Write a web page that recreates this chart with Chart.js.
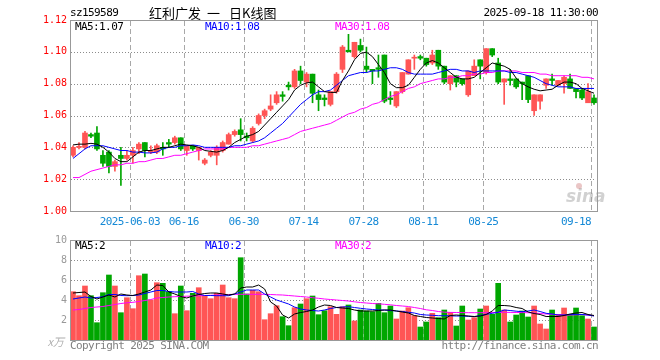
<!DOCTYPE html>
<html><head><meta charset="utf-8">
<script src="https://cdn.jsdelivr.net/npm/chart.js@4.4.0/dist/chart.umd.min.js"></script>
<style>
html,body{margin:0;padding:0;background:#fff;}
#wrap{position:relative;width:660px;height:360px;overflow:hidden;}
#c1{position:absolute;left:0;top:0;}
#c2{position:absolute;left:0;top:230px;}
</style></head><body>
<div id="wrap"><canvas id="c1" width="660" height="230"></canvas><canvas id="c2" width="660" height="130"></canvas></div>
<script>
const dates = ['2025-05-19','2025-05-20','2025-05-21','2025-05-22','2025-05-23','2025-05-26','2025-05-27','2025-05-28','2025-05-29','2025-05-30',
'2025-06-03','2025-06-04','2025-06-05','2025-06-06','2025-06-09','2025-06-10','2025-06-11','2025-06-12','2025-06-13',
'2025-06-16','2025-06-17','2025-06-18','2025-06-19','2025-06-20','2025-06-23','2025-06-24','2025-06-25','2025-06-26','2025-06-27','2025-06-30',
'2025-07-01','2025-07-02','2025-07-03','2025-07-04','2025-07-07','2025-07-08','2025-07-09','2025-07-10','2025-07-11',
'2025-07-14','2025-07-15','2025-07-16','2025-07-17','2025-07-18','2025-07-21','2025-07-22','2025-07-23','2025-07-24','2025-07-25',
'2025-07-28','2025-07-29','2025-07-30','2025-07-31','2025-08-01','2025-08-04','2025-08-05','2025-08-06','2025-08-07','2025-08-08',
'2025-08-11','2025-08-12','2025-08-13','2025-08-14','2025-08-15','2025-08-18','2025-08-19','2025-08-20','2025-08-21','2025-08-22',
'2025-08-25','2025-08-26','2025-08-27','2025-08-28','2025-08-29','2025-09-01','2025-09-02','2025-09-03','2025-09-04','2025-09-05',
'2025-09-08','2025-09-09','2025-09-10','2025-09-11','2025-09-12','2025-09-15','2025-09-16','2025-09-17','2025-09-18'];

const openP = [1.035,1.040,1.040,1.048,1.049,1.035,1.037,1.028,1.035,1.033,
1.035,1.039,1.043,1.037,1.037,1.040,1.043,1.043,1.046,1.038,
1.041,1.038,1.030,1.035,1.035,1.038,1.042,1.048,1.051,1.047,
1.044,1.055,1.060,1.064,1.068,1.073,1.079,1.078,1.088,1.081,
1.086,1.073,1.071,1.067,1.075,1.089,1.101,1.097,1.104,1.091,
1.089,1.090,1.098,1.071,1.066,1.075,1.086,1.096,1.097,1.096,
1.093,1.101,1.091,1.080,1.085,1.083,1.073,1.085,1.095,1.087,
1.102,1.093,1.081,1.083,1.083,1.081,1.085,1.063,1.069,1.079,
1.083,1.079,1.080,1.083,1.077,1.076,1.068,1.071];
const highP = [1.041,1.043,1.050,1.049,1.053,1.038,1.038,1.032,1.040,1.038,
1.040,1.043,1.043,1.041,1.042,1.043,1.045,1.047,1.046,1.041,
1.041,1.040,1.033,1.038,1.041,1.044,1.049,1.051,1.058,1.049,
1.053,1.061,1.064,1.073,1.075,1.075,1.081,1.089,1.091,1.087,
1.086,1.076,1.073,1.075,1.087,1.104,1.111,1.106,1.108,1.103,
1.089,1.098,1.098,1.075,1.075,1.087,1.095,1.098,1.098,1.096,
1.101,1.101,1.091,1.085,1.085,1.083,1.088,1.095,1.095,1.102,
1.102,1.096,1.083,1.089,1.083,1.081,1.085,1.073,1.073,1.083,
1.086,1.082,1.085,1.086,1.077,1.077,1.080,1.073];
const lowP = [1.034,1.039,1.039,1.046,1.038,1.028,1.024,1.025,1.016,1.032,
1.030,1.036,1.034,1.036,1.036,1.035,1.040,1.042,1.038,1.035,
1.038,1.032,1.029,1.034,1.029,1.037,1.042,1.047,1.044,1.044,
1.043,1.054,1.058,1.063,1.067,1.069,1.076,1.077,1.080,1.078,
1.068,1.063,1.066,1.066,1.074,1.087,1.100,1.096,1.100,1.087,
1.080,1.084,1.068,1.067,1.065,1.074,1.086,1.089,1.095,1.091,
1.092,1.089,1.080,1.076,1.078,1.079,1.072,1.085,1.083,1.086,
1.097,1.080,1.067,1.079,1.077,1.070,1.068,1.060,1.064,1.077,
1.079,1.079,1.074,1.077,1.071,1.070,1.068,1.067];
const closeP = [1.040,1.040,1.049,1.047,1.039,1.030,1.028,1.031,1.033,1.035,
1.038,1.042,1.038,1.038,1.041,1.039,1.042,1.046,1.039,1.041,
1.039,1.040,1.032,1.037,1.040,1.043,1.048,1.050,1.048,1.046,
1.052,1.060,1.063,1.066,1.073,1.072,1.078,1.088,1.082,1.086,
1.074,1.070,1.070,1.075,1.086,1.103,1.100,1.106,1.101,1.089,
1.088,1.089,1.069,1.070,1.075,1.087,1.095,1.096,1.096,1.092,
1.098,1.091,1.081,1.085,1.081,1.080,1.088,1.091,1.091,1.102,
1.098,1.081,1.083,1.082,1.078,1.080,1.070,1.073,1.073,1.083,
1.082,1.082,1.084,1.077,1.075,1.071,1.075,1.068];

const ma5 = [1.0415,1.042,1.042,1.0425,1.042,1.040,1.037,1.033,1.031,1.031,
1.034,1.037,1.038,1.038,1.039,1.040,1.040,1.041,1.042,1.0415,
1.041,1.040,1.038,1.0375,1.037,1.038,1.040,1.043,1.045,1.047,
1.048,1.050,1.054,1.058,1.062,1.066,1.070,1.076,1.079,1.0805,
1.081,1.078,1.075,1.0745,1.0745,1.082,1.088,1.095,1.099,1.0998,
1.097,1.092,1.087,1.080,1.0775,1.0775,1.079,1.084,1.089,1.093,
1.0945,1.093,1.090,1.087,1.084,1.083,1.083,1.084,1.087,1.090,
1.093,1.092,1.091,1.089,1.0835,1.080,1.078,1.0765,1.0755,1.076,
1.0765,1.079,1.081,1.081,1.080,1.077,1.0755,1.074];
const ma10 = [1.033,1.036,1.039,1.041,1.041,1.041,1.040,1.039,1.038,1.038,
1.037,1.037,1.0365,1.0365,1.037,1.039,1.040,1.040,1.041,1.041,
1.0415,1.041,1.040,1.040,1.040,1.040,1.040,1.041,1.041,1.042,
1.043,1.044,1.046,1.049,1.052,1.055,1.059,1.063,1.067,1.070,
1.073,1.075,1.075,1.076,1.079,1.082,1.085,1.086,1.087,1.087,
1.088,1.088,1.089,1.090,1.090,1.089,1.087,1.086,1.086,1.086,
1.086,1.087,1.088,1.089,1.089,1.088,1.088,1.087,1.088,1.088,
1.088,1.088,1.088,1.087,1.087,1.086,1.085,1.084,1.082,1.080,
1.079,1.078,1.078,1.078,1.077,1.077,1.077,1.077];
const ma30 = [1.021,1.021,1.023,1.025,1.026,1.027,1.028,1.029,1.029,1.030,
1.030,1.031,1.031,1.032,1.033,1.033,1.034,1.035,1.035,1.036,
1.037,1.038,1.039,1.039,1.039,1.039,1.040,1.040,1.040,1.040,
1.041,1.041,1.042,1.043,1.044,1.045,1.046,1.048,1.050,1.051,
1.052,1.053,1.054,1.055,1.057,1.059,1.061,1.062,1.064,1.065,
1.067,1.068,1.070,1.072,1.073,1.075,1.077,1.078,1.080,1.081,
1.082,1.083,1.083,1.084,1.084,1.085,1.085,1.086,1.086,1.087,
1.087,1.088,1.088,1.088,1.088,1.087,1.087,1.087,1.086,1.086,
1.085,1.085,1.085,1.085,1.085,1.084,1.084,1.083];

const volume = [4.83,4.43,5.4,4.43,1.73,4.73,6.5,5.4,2.73,4.23,
3.13,6.43,6.6,4.0,5.73,5.67,4.83,2.63,5.4,2.93,
4.67,5.23,4.43,4.13,4.67,5.5,4.23,4.13,8.23,4.6,
4.97,4.83,2.03,2.63,3.43,2.33,1.43,3.23,3.6,4.13,
4.4,2.53,2.93,3.33,2.57,3.33,3.5,1.9,3.0,2.9,
2.83,3.67,2.73,3.4,2.1,2.9,3.23,2.43,1.3,1.8,
2.67,2.23,3.0,2.77,1.4,3.4,2.0,2.23,3.1,3.4,
2.57,5.67,3.0,1.8,2.5,2.9,2.3,3.4,1.6,1.1,
3.0,2.57,3.2,2.5,3.2,2.43,2.1,1.3];
const volMa5 = [4.7,4.75,4.8,4.35,4.1,4.3,4.5,4.3,4.6,4.5,
4.45,4.6,4.8,5.0,5.5,5.45,4.8,4.6,4.35,4.2,
4.4,4.55,4.65,4.7,4.7,4.6,4.5,4.6,5.2,5.3,
5.3,5.5,5.1,3.8,3.4,2.5,2.2,2.6,2.75,2.85,
3.0,3.3,3.5,3.45,3.25,3.2,3.15,3.0,2.9,2.9,
2.9,2.95,3.0,3.0,2.9,2.8,2.7,2.45,2.35,2.25,
2.2,2.15,2.1,2.45,2.5,2.45,2.4,2.35,2.4,2.55,
2.9,3.45,3.45,3.4,3.25,3.15,2.8,2.65,2.55,2.35,
2.35,2.35,2.45,2.6,2.7,2.75,2.55,2.45];
const volMa10 = [4.1,4.2,4.3,4.2,4.25,4.33,4.55,4.55,4.45,4.43,
4.45,4.5,4.65,4.8,4.95,4.95,4.85,4.8,4.8,4.8,
4.85,4.6,4.45,4.45,4.43,4.43,4.43,4.6,4.8,5.0,
5.0,5.0,4.6,4.3,4.0,3.8,3.6,3.3,3.1,3.0,
2.95,2.9,3.0,3.15,3.25,3.3,3.33,3.25,3.17,3.1,
3.05,3.0,3.0,2.95,2.9,2.85,2.77,2.7,2.55,2.5,
2.47,2.43,2.43,2.42,2.4,2.4,2.37,2.33,2.45,2.57,
2.67,2.77,3.0,2.95,2.88,2.83,2.9,3.0,2.85,2.67,
2.6,2.5,2.5,2.55,2.57,2.55,2.5,2.4];
const volMa30 = [3.0,3.05,3.15,3.25,3.3,3.35,3.45,3.55,3.65,3.72,
3.77,3.85,3.95,4.05,4.2,4.25,4.3,4.33,4.35,4.38,
4.4,4.42,4.45,4.47,4.5,4.52,4.55,4.57,4.57,4.57,
4.57,4.57,4.57,4.55,4.52,4.5,4.45,4.4,4.35,4.3,
4.23,4.17,4.1,4.05,4.0,3.95,3.9,3.82,3.75,3.7,
3.65,3.62,3.57,3.52,3.45,3.4,3.35,3.25,3.15,3.02,
2.95,2.85,2.78,2.76,2.75,2.74,2.73,2.73,2.73,2.73,
2.75,2.76,2.77,2.76,2.75,2.74,2.73,2.7,2.65,2.6,
2.57,2.53,2.5,2.5,2.52,2.55,2.5,2.43];

const priceTicks = [1.00,1.02,1.04,1.06,1.08,1.10,1.12];
const volTicks = [2,4,6,8,10];
const dateTickDates = ['2025-06-03','2025-06-16','2025-06-30','2025-07-14','2025-07-28','2025-08-11','2025-08-25','2025-09-18'];
const dateTickLabels = ['2025-06-03','06-16','06-30','07-14','07-28','08-11','08-25','09-18'];

const RED = '#ff5555', GREEN = '#00a600';
const candleColors = closeP.map((c, i) => c >= openP[i] ? RED : GREEN);
const MONO = "11px 'DejaVu Sans Mono', monospace";
const DOT = '#8c8c8c', DASH = '#a8a8a8', BORDER = '#999999';
const CJK = "13px 'Noto Sans CJK SC', sans-serif";

function txt(ctx, s, x, y, color, font, align) {
  ctx.fillStyle = color; ctx.font = font; ctx.textAlign = align || 'left'; ctx.textBaseline = 'middle';
  const isMono = font === MONO;
  if ('letterSpacing' in ctx) ctx.letterSpacing = isMono ? '-0.6px' : '0px';
  let dx = 0;
  if (isMono && 'letterSpacing' in ctx) {
    if (align === 'right') dx = -0.6; else if (align === 'center') dx = -0.3;
  }
  ctx.fillText(s, x - dx * 0, y);
  if ('letterSpacing' in ctx) ctx.letterSpacing = '0px';
}

function drawGrid(chart, hValues) {
  const ctx = chart.ctx, a = chart.chartArea, x = chart.scales.x, y = chart.scales.y;
  const L = Math.round(a.left), R = Math.round(a.right), T = Math.round(a.top), B = Math.round(a.bottom);
  ctx.save();
  ctx.globalCompositeOperation = 'destination-over';
  ctx.fillStyle = DOT;
  for (let k = 0; k < hValues.length; k++) {
    const py = Math.round(y.getPixelForValue(hValues[k]));
    if (py > T + 2 && py < B - 2) {
      for (let px = L + 1; px < R - 1; px += 3) ctx.fillRect(px, py, 1, 1);
    }
  }
  ctx.fillStyle = DASH;
  const half = (x.getPixelForValue(1) - x.getPixelForValue(0)) / 2;
  for (let k = 0; k < dateTickDates.length; k++) {
    const px = Math.round(x.getPixelForValue(dates.indexOf(dateTickDates[k])) - half);
    for (let py = T + 1; py < B; py += 8) ctx.fillRect(px, py, 1, Math.min(5, B - py));
  }
  ctx.restore();
}

function makePlugin(hValues, extra) {
  return {
    id: 'customFrame',
    afterDraw(chart) {
      const ctx = chart.ctx, a = chart.chartArea;
      drawGrid(chart, hValues);
      ctx.save();
      ctx.fillStyle = BORDER;
      const L = Math.round(a.left), R = Math.round(a.right), T = Math.round(a.top), B = Math.round(a.bottom);
      ctx.fillRect(L, T, R - L, 1);
      ctx.fillRect(L, B, R - L + 1, 1);
      ctx.fillRect(L, T, 1, B - T);
      ctx.fillRect(R, T, 1, B - T + 1);
      extra(chart, ctx, a);
      ctx.restore();
    }
  };
}

const lineDs = (data, color) => ({type: 'line', data, borderColor: color, borderWidth: 1, pointRadius: 0, tension: 0, order: 0, fill: false});

new Chart(document.getElementById('c1'), {
  type: 'bar',
  data: {
    labels: dates,
    datasets: [
      {type: 'bar', data: lowP.map((l, i) => [l, highP[i]]), backgroundColor: candleColors, barThickness: 1, grouped: false, order: 2},
      {type: 'bar', data: openP.map((o, i) => [o, closeP[i]]), backgroundColor: candleColors, barThickness: 5, minBarLength: 1, grouped: false, order: 1},
      lineDs(ma5, '#000000'),
      lineDs(ma10, '#0000ff'),
      lineDs(ma30, '#ff00ff')
    ]
  },
  options: {
    responsive: false, animation: false, devicePixelRatio: 1,
    layout: {padding: {left: 0, right: 63, top: 20, bottom: 19}},
    plugins: {legend: {display: false}, tooltip: {enabled: false}},
    scales: {
      x: {type: 'category', offset: true, grid: {display: false, drawTicks: false}, ticks: {display: false}, border: {display: false},
          afterFit(s) { s.height = 0; }},
      y: {min: 1.00, max: 1.12,
          afterBuildTicks(s) { s.ticks = priceTicks.map(v => ({value: v})); },
          ticks: {color: '#ff0000', font: {family: "'DejaVu Sans Mono', monospace", size: 10}, padding: 3, callback: v => Number(v).toFixed(2)},
          grid: {display: false, drawTicks: false}, border: {display: false},
          afterFit(s) { s.width = 70; }}
    }
  },
  plugins: [makePlugin(priceTicks, (chart, ctx, a) => {
    const x = chart.scales.x;
    const half = (x.getPixelForValue(1) - x.getPixelForValue(0)) / 2;
    txt(ctx, 'sz159589', 70, 13, '#000', MONO);
    txt(ctx, '红利广发', 149, 13, '#000', CJK);
    txt(ctx, '一', 207, 13, '#000', CJK);
    txt(ctx, '日K线图', 229, 13, '#000', CJK);
    txt(ctx, '2025-09-18 11:30:00', 598, 13, '#000', MONO, 'right');
    const L = ma5.length - 1;
    txt(ctx, 'MA5:' + ma5[L].toFixed(2), 75, 27, '#000', MONO);
    txt(ctx, 'MA10:' + ma10[L].toFixed(2), 205, 27, '#0000ff', MONO);
    txt(ctx, 'MA30:' + ma30[L].toFixed(2), 335, 27, '#ff00ff', MONO);
    dateTickDates.forEach((d, k) => {
      const gx = x.getPixelForValue(dates.indexOf(d)) - half;
      const w = dateTickLabels[k].length * 6;
      const cx = Math.min(gx, a.right - 6 - w / 2);
      txt(ctx, dateTickLabels[k], cx, 222, '#1589d6', MONO, 'center');
    });
    ctx.globalAlpha = 0.45;
    txt(ctx, 'sina', 566, 198, '#9a9a9a', "italic bold 17px 'DejaVu Sans', sans-serif");
    ctx.fillStyle = '#d08080';
    ctx.beginPath(); ctx.arc(579, 186, 3, 0, Math.PI * 2); ctx.fill();
    ctx.globalAlpha = 1;
  })]
});

new Chart(document.getElementById('c2'), {
  type: 'bar',
  data: {
    labels: dates,
    datasets: [
      {type: 'bar', data: volume, backgroundColor: candleColors, barThickness: 5, grouped: false, order: 1},
      lineDs(volMa5, '#000000'),
      lineDs(volMa10, '#0000ff'),
      lineDs(volMa30, '#ff00ff')
    ]
  },
  options: {
    responsive: false, animation: false, devicePixelRatio: 1,
    layout: {padding: {left: 0, right: 63, top: 10, bottom: 20}},
    plugins: {legend: {display: false}, tooltip: {enabled: false}},
    scales: {
      x: {type: 'category', offset: true, grid: {display: false, drawTicks: false}, ticks: {display: false}, border: {display: false},
          afterFit(s) { s.height = 0; }},
      y: {min: 0, max: 10,
          afterBuildTicks(s) { s.ticks = volTicks.map(v => ({value: v})); },
          ticks: {color: '#999999', font: {family: "'DejaVu Sans Mono', monospace", size: 10}, padding: 3, callback: v => String(v)},
          grid: {display: false, drawTicks: false}, border: {display: false},
          afterFit(s) { s.width = 70; }}
    }
  },
  plugins: [makePlugin(volTicks, (chart, ctx, a) => {
    const L = volMa5.length - 1;
    txt(ctx, 'MA5:' + Math.round(volMa5[L]), 75, 16, '#000', MONO);
    txt(ctx, 'MA10:' + Math.round(volMa10[L]), 205, 16, '#0000ff', MONO);
    txt(ctx, 'MA30:' + Math.round(volMa30[L]), 335, 16, '#ff00ff', MONO);
    txt(ctx, 'x万', 64, 112, '#b0b0b0', "italic 11px 'Noto Sans CJK SC', sans-serif", 'right');
    txt(ctx, 'Copyright 2025 SINA.COM', 70, 116, '#808080', MONO);
    txt(ctx, 'http://finance.sina.com.cn', 598, 116, '#808080', MONO, 'right');
  })]
});
</script>
</body></html>
